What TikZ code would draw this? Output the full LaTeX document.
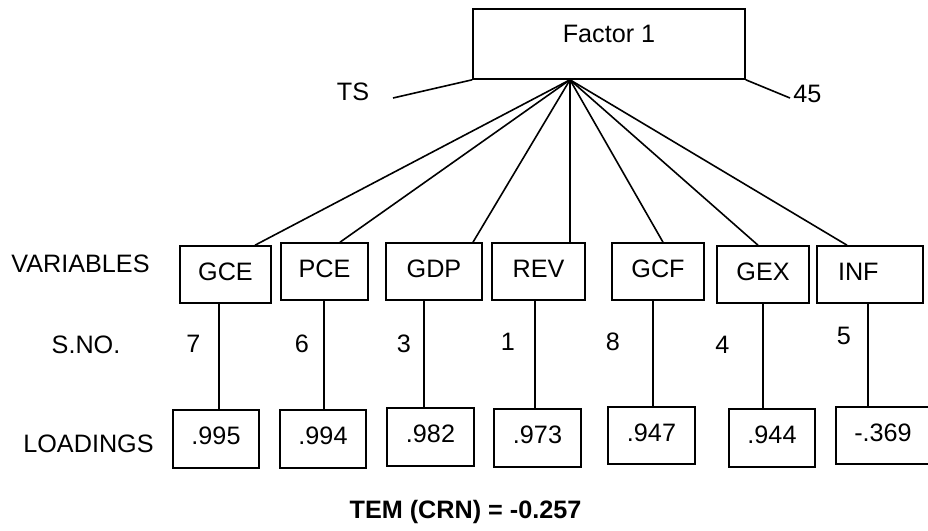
\documentclass[tikz,border=0pt]{standalone}
\usepackage{fontspec}
\setmainfont{Liberation Sans}
\usetikzlibrary{positioning}

\begin{document}
\begin{tikzpicture}[x=0.5pt,y=-0.5pt,
  myvar/.style={draw,line width=0.8pt,minimum height=28.5pt,inner sep=0pt,text depth=3pt,font=\fontsize{12.6}{15}\selectfont},
  myload/.style={draw,line width=0.8pt,minimum height=29pt,inner sep=0pt,text depth=3pt,font=\fontsize{12.6}{15}\selectfont},
  mytext/.style={inner sep=0pt,font=\fontsize{12.6}{15}\selectfont},
 ]
\useasboundingbox (0,0) rectangle (928,531);
\clip (0,0) rectangle (928,531);

\node[myvar, minimum width=136pt, minimum height=35pt, text depth=10pt] (F1) at (609,44) {Factor 1};
\coordinate (hub) at ([xshift=-19.5pt]F1.south);

% variables
\node[myvar, minimum width=45.5pt] (GCE) at (225.5,274.5) {GCE};
\node[myvar, minimum width=43.5pt, text width=26pt, align=left] (PCE) at (324.5,271.5) {PCE};
\node[myvar, minimum width=48pt] (GDP) at (434,271.5) {GDP};
\node[myvar, minimum width=46.5pt] (REV) at (538.5,271.5) {REV};
\node[myvar, minimum width=46pt] (GCF) at (658,271.5) {GCF};
\node[myvar, minimum width=46pt] (GEX) at (763,274.5) {GEX};
\node[myvar, minimum width=53pt, text width=32pt, align=left] (INF) at (870,274.5) {INF};

% loadings
\node[myload, minimum width=43pt] (LGCE) at (216,439) {.995};
\node[myload, minimum width=43pt] (LPCE) at (323,439) {.994};
\node[myload, minimum width=43.5pt] (LGDP) at (430.5,437) {.982};
\node[myload, minimum width=43.5pt] (LREV) at (537.5,438) {.973};
\node[myload, minimum width=43.5pt, minimum height=28.5pt] (LGCF) at (651.5,435.5) {.947};
\node[myload, minimum width=43pt] (LGEX) at (772,438) {.944};
\node[myload, minimum width=47pt, minimum height=28.5pt] (LINF) at (883,435.5) {-.369};

% row labels
\node[mytext] (VAR) at (80.5,264) {VARIABLES};
\node[mytext] (SNO) at (86,345) {S.NO.};
\node[mytext] (LOAD) at (88.5,444) {LOADINGS};

% serial numbers
\node[mytext] (N7) at (193.5,343.5) {7};
\node[mytext] (N6) at (302,343.5) {6};
\node[mytext] (N3) at (404,343.5) {3};
\node[mytext] (N1) at (508,342) {1};
\node[mytext] (N8) at (613,342) {8};
\node[mytext] (N4) at (722.5,345) {4};
\node[mytext] (N5) at (844,336) {5};

\node[mytext] (TS) at (353,91.5) {TS};
\node[mytext] (N45) at (807.5,93.5) {45};
\coordinate (TSend) at (393,98);
\coordinate (N45end) at (790,98);

\node[mytext, font=\bfseries\fontsize{12.6}{15}\selectfont] (TEM) at (465.5,512) {TEM (CRN) = -0.257};

\path[line width=0.8pt]
(TSend) edge (F1.south west)
(F1.south east) edge (N45end)
(hub) edge ([xshift=14.75pt]GCE.north)
(hub) edge ([xshift=7.75pt]PCE.north)
(hub) edge ([xshift=19.5pt]GDP.north)
(hub) edge ([xshift=15.75pt]REV.north)
(hub) edge ([xshift=2.5pt]GCF.north)
(hub) edge ([xshift=-2.5pt]GEX.north)
(hub) edge ([xshift=-11.5pt]INF.north);

\path[line width=0.8pt]
([xshift=-3.25pt]GCE.south) edge ([xshift=-3.25pt]LGCE.north -| GCE.south)
([xshift=-0.25pt]PCE.south) edge ([xshift=-0.25pt]LPCE.north -| PCE.south)
([xshift=-5pt]GDP.south) edge ([xshift=-5pt]LGDP.north -| GDP.south)
([xshift=-1.75pt]REV.south) edge ([xshift=-1.75pt]LREV.north -| REV.south)
([xshift=-2.5pt]GCF.south) edge ([xshift=-2.5pt]LGCF.north -| GCF.south)
(GEX.south) edge (LGEX.north -| GEX.south)
([xshift=-1pt]INF.south) edge ([xshift=-1pt]LINF.north -| INF.south);

\end{tikzpicture}
\end{document}
